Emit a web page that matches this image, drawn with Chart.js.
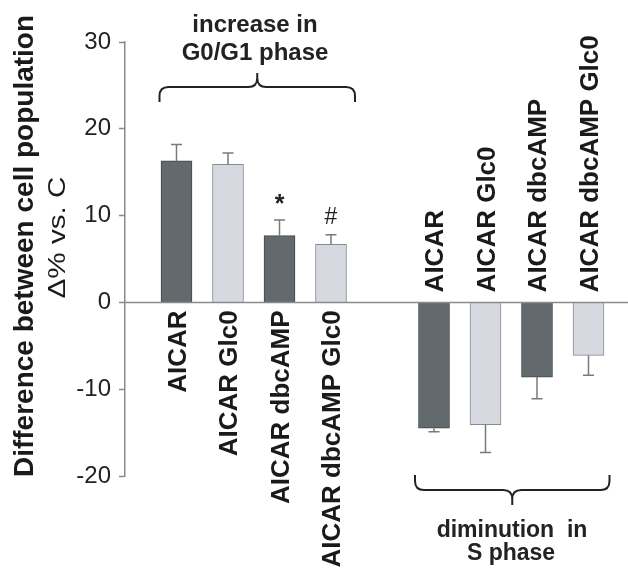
<!DOCTYPE html>
<html>
<head>
<meta charset="utf-8">
<script src="https://cdn.jsdelivr.net/npm/chart.js@4.4.1/dist/chart.umd.min.js"></script>
<style>
  html, body { margin: 0; padding: 0; background: #fff; }
  #wrap { width: 628px; height: 569px; }
</style>
</head>
<body>
<div id="wrap"><canvas id="chart" width="628" height="569"></canvas></div>
<script>
// data
const treatments = ['AICAR', 'AICAR Glc0', 'AICAR dbcAMP', 'AICAR dbcAMP Glc0'];
const g0g1Values = [16.3, 15.9, 7.7, 6.7];
const g0g1Errors = [1.9, 1.3, 1.8, 1.1];
const sPhaseValues = [-14.5, -14.1, -8.6, -6.1];
const sPhaseErrors = [0.4, 3.2, 2.5, 2.3];
const marks = ['', '', '*', '#'];
const yTicks = [-20, -10, 0, 10, 20, 30];

const FONT = "'Liberation Sans', Arial, sans-serif";
const DARK = '#636a6d', DARK_EDGE = '#40474a';
const LIGHT = '#d6d9e0', LIGHT_EDGE = '#868b92';
const shade = [DARK, LIGHT, DARK, LIGHT];
const edge = [DARK_EDGE, LIGHT_EDGE, DARK_EDGE, LIGHT_EDGE];

// one empty slot at the axis, then each group; the second empty slot is the gap
const slots = [''].concat(treatments, [''], treatments);
const values = [null].concat(g0g1Values, [null], sPhaseValues);
const errors = [null].concat(g0g1Errors, [null], sPhaseErrors);
const stars = [''].concat(marks, [''], ['', '', '', '']);
const fills = ['transparent'].concat(shade, ['transparent'], shade);
const borders = ['transparent'].concat(edge, ['transparent'], edge);

Chart.defaults.font.family = FONT;

// error bars, rotated labels, braces, titles
const decorations = {
    id: 'decorations',
    afterDatasetsDraw(chart) {
        const c = chart.ctx;
        const ys = chart.scales.y;
        const area = chart.chartArea;
        const y0 = ys.getPixelForValue(0);

        c.save();
        // zero line over the whole width
        c.strokeStyle = '#8a8a8a';
        c.lineWidth = 1.5;
        c.beginPath();
        c.moveTo(area.left, y0);
        c.lineTo(chart.width, y0);
        c.stroke();

        const meta = chart.getDatasetMeta(0);
        values.forEach((v, i) => {
            if (v === null) return;
            const x = meta.data[i].x;
            const dir = v >= 0 ? 1 : -1;
            const yBar = ys.getPixelForValue(v);
            const yErr = ys.getPixelForValue(v + dir * errors[i]);
            c.strokeStyle = '#7a7a7a';
            c.lineWidth = 1.5;
            c.beginPath();
            c.moveTo(x, yBar);
            c.lineTo(x, yErr);
            c.moveTo(x - 5.5, yErr);
            c.lineTo(x + 5.5, yErr);
            c.stroke();

            if (stars[i]) {
                c.fillStyle = '#222';
                c.font = (stars[i] === '*' ? 'bold 25px ' : '23px ') + FONT;
                c.textAlign = 'center';
                c.textBaseline = 'alphabetic';
                c.fillText(stars[i], x, yErr - (stars[i] === '*' ? 8 : 11));
            }

            // category label, reading upward
            c.save();
            c.translate(x + 9, dir > 0 ? y0 + 8 : y0 - 10);
            c.rotate(-Math.PI / 2);
            c.fillStyle = '#1a1a1a';
            c.font = 'bold 26px ' + FONT;
            c.textAlign = dir > 0 ? 'right' : 'left';
            c.textBaseline = 'alphabetic';
            c.fillText(slots[i], 0, 0);
            c.restore();
        });

        // braces
        const brace = (left, right, yEnd, yLine, yTip) => {
            const mid = (left + right) / 2;
            const r = Math.abs(yEnd - yLine) * 0.6;
            const s = Math.sign(yTip - yLine);
            c.beginPath();
            c.moveTo(left, yEnd);
            c.lineTo(left, yLine - s * r);
            c.quadraticCurveTo(left, yLine, left + r, yLine);
            c.lineTo(mid - r, yLine);
            c.quadraticCurveTo(mid, yLine, mid, yLine + s * r);
            c.lineTo(mid, yTip);
            c.moveTo(mid, yLine + s * r);
            c.quadraticCurveTo(mid, yLine, mid + r, yLine);
            c.lineTo(right - r, yLine);
            c.quadraticCurveTo(right, yLine, right, yLine - s * r);
            c.lineTo(right, yEnd);
            c.stroke();
        };
        c.strokeStyle = '#222';
        c.lineWidth = 2;
        const xa = meta.data[1].x, xb = meta.data[4].x;
        const xc = meta.data[6].x, xd = meta.data[9].x;
        brace(xa - 17, xb + 24, 102, 87, 73);
        brace(xc - 19, xd + 21, 475, 490, 505);

        c.fillStyle = '#222';
        c.font = 'bold 24px ' + FONT;
        c.textAlign = 'center';
        c.textBaseline = 'alphabetic';
        c.fillText('increase in', 255, 32);
        c.fillText('G0/G1 phase', 255, 60);
        c.font = 'bold 23px ' + FONT;
        c.fillText('diminution  in', 512, 537);
        c.fillText('S phase', 511, 560);

        // y axis title, two lines
        c.save();
        c.translate(33, 246);
        c.rotate(-Math.PI / 2);
        c.fillStyle = '#1a1a1a';
        c.font = 'bold 28px ' + FONT;
        c.textAlign = 'center';
        c.fillText('Difference between cell population', 0, 0);
        c.restore();

        c.save();
        c.translate(65, 237.5);
        c.rotate(-Math.PI / 2);
        c.fillStyle = '#1a1a1a';
        c.font = '24px ' + FONT;
        c.textAlign = 'center';
        const w = c.measureText('Δ% vs. C').width;
        c.scale(122 / w, 1);
        c.fillText('Δ% vs. C', 0, 0);
        c.restore();

        c.restore();
    }
};

new Chart(document.getElementById('chart').getContext('2d'), {
    type: 'bar',
    data: {
        labels: slots,
        datasets: [{
            data: values,
            backgroundColor: fills,
            borderColor: borders,
            borderWidth: 1,
            barThickness: 31,
            clip: false
        }]
    },
    options: {
        responsive: false,
        animation: false,
        layout: { padding: { left: 0, top: 42, right: 39.5, bottom: 93 } },
        plugins: {
            legend: { display: false },
            tooltip: { enabled: false }
        },
        scales: {
            x: {
                type: 'category',
                offset: false,
                display: false
            },
            y: {
                min: -20,
                max: 30,
                afterFit(scale) { scale.width = 125; },
                afterBuildTicks(scale) { scale.ticks = yTicks.map(v => ({ value: v })); },
                border: { display: true, color: '#8a8a8a', width: 1.5 },
                grid: {
                    drawOnChartArea: false,
                    tickLength: 6,
                    tickColor: '#8a8a8a',
                    tickWidth: 1.5
                },
                ticks: {
                    padding: 8,
                    color: '#222',
                    font: { size: 24 }
                }
            }
        }
    },
    plugins: [decorations]
});
</script>
</body>
</html>
